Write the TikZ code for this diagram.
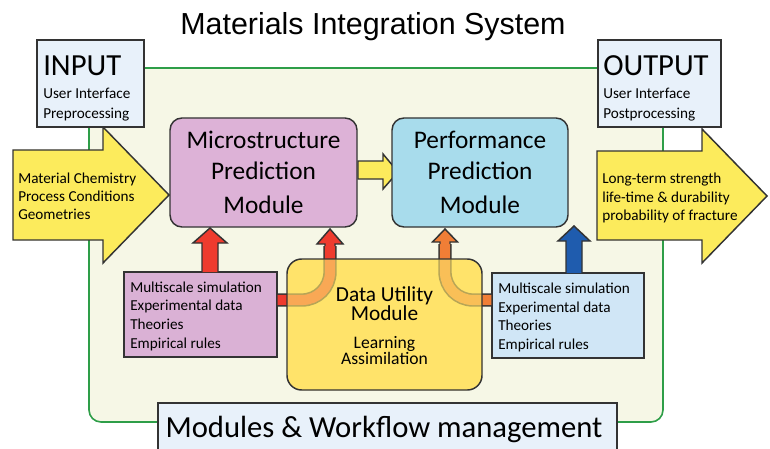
\documentclass[tikz,border=0pt]{standalone}
\usepackage{fontspec}
\setmainfont{Carlito}
\newfontfamily\arialf{Liberation Sans}
\usetikzlibrary{fit}
\definecolor{framefill}{HTML}{F6F7E6}
\definecolor{framegreen}{HTML}{2E9E48}
\definecolor{ioboxfill}{HTML}{E8F1FA}
\definecolor{microfill}{HTML}{DDB2D7}
\definecolor{perffill}{HTML}{A8DCEC}
\definecolor{arrowyellow}{HTML}{FCEB5C}
\definecolor{datayellow}{HTML}{FFE36A}
\definecolor{ldatafill}{HTML}{DAB1D5}
\definecolor{rdatafill}{HTML}{D0E6F6}
\definecolor{redarr}{HTML}{EE3B2E}
\definecolor{orangearr}{HTML}{F07E36}
\definecolor{bluearr}{HTML}{1F5CAE}
\definecolor{outline}{HTML}{333333}
\newcommand\vfat[7]{% x, ybottom, ytip, shaft half, head half, head length, colour
  \draw[arrowline, fill=#7] (#1-#4,#2) -- (#1-#4,#3+#6) -- (#1-#5,#3+#6) -- (#1,#3)
    -- (#1+#5,#3+#6) -- (#1+#4,#3+#6) -- (#1+#4,#2);}
\begin{document}
\begin{tikzpicture}[x=0.75pt,y=-0.75pt,
  boxline/.style={draw=outline, line width=1.1pt},
  arrowline/.style={draw=outline, line width=1.1pt, line join=miter},
  fitbox/.style={boxline, inner sep=0pt},
  small/.style={font=\fontsize{11.4}{14}\selectfont, inner sep=0pt},
  big/.style={font=\fontsize{23}{27}\selectfont, inner sep=0pt},
  modtext/.style={font=\fontsize{19}{24}\selectfont, inner sep=0pt}]
\useasboundingbox (0,0) rectangle (770,449);
\clip (0,0) rectangle (770,449);
% frame
\draw[framegreen, line width=1.2pt, fill=framefill, rounded corners=9pt] (89,68) rectangle (663,422);
% title
\node[font=\arialf\fontsize{22.8}{26}\selectfont, anchor=base, inner sep=0pt] (title) at (373,35) {Materials Integration System};
% big in/out arrows
\draw[arrowline, fill=arrowyellow] (13,150) -- (103,150) -- (103,127) -- (169,195) -- (103,263) -- (103,240) -- (13,240) -- cycle;
\draw[arrowline, fill=arrowyellow] (597,151) -- (702,151) -- (702,129) -- (767,196) -- (702,263) -- (702,240) -- (597,240) -- cycle;
\node[small, anchor=base west] (in1) at (18,183) {Material Chemistry};
\node[small, anchor=base west] (in2) at (18,201) {Process Conditions};
\node[small, anchor=base west] (in3) at (18,219) {Geometries};
\node[small, anchor=base west] (out1) at (602,183) {Long-term strength};
\node[small, anchor=base west] (out2) at (602,202) {life-time \& durability};
\node[small, anchor=base west] (out3) at (602,220) {probability of fracture};
% INPUT / OUTPUT boxes
\node[fitbox, fill=ioboxfill, fit={(37,40) (144,127)}] (input) {};
\node[big, anchor=base west] (inputt) at (43,76) {INPUT};
\node[small, anchor=base west] (inui) at (43,99) {User Interface};
\node[small, anchor=base west] (inpre) at (43,118) {Preprocessing};
\node[fitbox, fill=ioboxfill, fit={(598,40) (721,127)}] (output) {};
\node[big, anchor=base west] (outputt) at (603,76) {OUTPUT};
\node[small, anchor=base west] (outui) at (603,99) {User Interface};
\node[small, anchor=base west] (outpost) at (603,118) {Postprocessing};
% middle arrow
\draw[arrowline, fill=arrowyellow] (358,161) -- (383,161) -- (383,154) -- (398,172) -- (383,189) -- (383,179) -- (358,179) -- cycle;
% modules
\node[fitbox, fill=microfill, rounded corners=9pt, fit={(170,118) (357,227)}] (micro) {};
\node[modtext, anchor=base] (m1) at (263.5,148) {Microstructure};
\node[modtext, anchor=base] (m2) at (263.5,180) {Prediction};
\node[modtext, anchor=base] (m3) at (263.5,213) {Module};
\node[fitbox, fill=perffill, rounded corners=9pt, fit={(392,118) (568,227)}] (perf) {};
\node[modtext, anchor=base] (p1) at (480,148) {Performance};
\node[modtext, anchor=base] (p2) at (480,180) {Prediction};
\node[modtext, anchor=base] (p3) at (480,213) {Module};
% data boxes
\node[fitbox, fill=ldatafill, fit={(124,272) (277,357)}] (ldata) {};
\node[small, anchor=base west] (l1) at (130,292) {Multiscale simulation};
\node[small, anchor=base west] (l2) at (130,310) {Experimental data};
\node[small, anchor=base west] (l3) at (130,329) {Theories};
\node[small, anchor=base west] (l4) at (130,348) {Empirical rules};
\node[fitbox, fill=rdatafill, fit={(492,273) (644,358)}] (rdata) {};
\node[small, anchor=base west] (r1) at (498,293) {Multiscale simulation};
\node[small, anchor=base west] (r2) at (498,312) {Experimental data};
\node[small, anchor=base west] (r3) at (498,330) {Theories};
\node[small, anchor=base west] (r4) at (498,349) {Empirical rules};
% straight vertical arrows
\vfat{210}{272}{228}{8}{17}{15}{redarr}
\vfat{574}{273}{226}{8}{16}{15}{bluearr}
% data utility box (opaque base)
\node[fitbox, draw=none, fill=datayellow, rounded corners=11pt, fit={(287,259) (482,390)}] (dum) {};
% curved arrows
\draw[outline, line width=10pt, rounded corners=21pt] (ldata.east |- 0,300) -- (330,300) -- (330,246);
\draw[redarr, line width=7.6pt, rounded corners=21pt] (ldata.east |- 0,300) -- (330,300) -- (330,246);
\vfat{330}{246}{229}{5}{13}{15}{redarr}
\draw[outline, line width=10pt, rounded corners=21pt] (rdata.west |- 0,300) -- (445,300) -- (445,244);
\draw[orangearr, line width=7.6pt, rounded corners=21pt] (rdata.west |- 0,300) -- (445,300) -- (445,244);
\vfat{445}{244}{229}{5}{12.5}{13}{orangearr}
% data utility overlay
\node[fitbox, fill=datayellow, fill opacity=0.65, rounded corners=11pt, fit={(287,259) (482,390)}] (du) {};
\node[font=\fontsize{16}{19}\selectfont, anchor=base, inner sep=0pt] (d1) at (384.5,301) {Data Utility};
\node[font=\fontsize{16}{19}\selectfont, anchor=base, inner sep=0pt] (d2) at (384.5,320.5) {Module};
\node[font=\fontsize{13.2}{15}\selectfont, anchor=base, inner sep=0pt] (d3) at (384.5,348) {Learning};
\node[font=\fontsize{13.2}{15}\selectfont, anchor=base, inner sep=0pt] (d4) at (384.5,364) {Assimilation};
% bottom box
\node[fitbox, fill=ioboxfill, fit={(158,403) (617,470)}] (mwm) {};
\node[big, anchor=base] (mwmt) at (384,437) {Modules \& Workflow management};
\end{tikzpicture}
\end{document}
